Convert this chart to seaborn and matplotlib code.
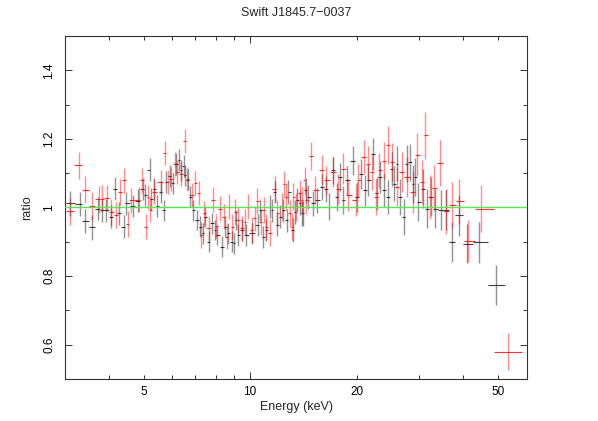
import numpy as np
import matplotlib
matplotlib.use("Agg")
import matplotlib.pyplot as plt
import seaborn as sns

# data group 1 (black) : bin centre energy (keV), data/model ratio, 1-sigma error
black_energy = [3.105, 3.30, 3.423, 3.575, 3.708, 3.815, 3.923, 4.053, 4.160, 4.250,
                4.390, 4.468, 4.667, 4.808, 4.967, 5.055, 5.198, 5.256, 5.360, 5.454,
                5.599, 5.694, 5.794, 5.920, 6.052, 6.171, 6.305, 6.387, 6.484, 6.556,
                6.654, 6.772, 6.892, 7.073, 7.227, 7.355, 7.465, 7.627, 7.797, 7.966,
                8.085, 8.320, 8.501, 8.685, 8.879, 8.981, 9.130, 9.268, 9.50, 9.74,
                10.11, 10.55, 10.67, 10.88, 11.09, 11.35, 11.54, 11.72, 11.91, 12.15,
                12.41, 12.69, 12.83, 13.25, 13.40, 13.55, 13.84, 13.99, 14.12, 14.35,
                14.61, 15.09, 15.48, 15.93, 16.39, 16.74, 17.18, 17.56, 17.95, 18.34,
                18.74, 19.56, 20.08, 20.53, 21.11, 21.57, 22.28, 22.78, 23.27, 23.88,
                24.56, 25.10, 25.53, 25.93, 26.50, 27.19, 27.67, 28.28, 28.89, 29.21,
                29.85, 30.71, 31.52, 32.35, 33.27, 34.53, 35.66, 37.07, 38.80, 40.88,
                44.20, 49.54]
black_ratio = [1.012, 1.009, 0.961, 0.942, 0.997, 0.992, 0.992, 0.973, 1.055, 0.983,
               0.944, 1.012, 1.004, 1.020, 1.054, 1.036, 1.110, 1.026, 1.055, 1.004,
               1.045, 0.992, 1.074, 1.091, 1.070, 1.128, 1.139, 1.108, 1.120, 1.094,
               1.081, 1.031, 0.992, 0.963, 0.944, 0.925, 0.973, 0.900, 0.954, 0.934,
               0.920, 0.886, 0.944, 0.925, 0.900, 0.896, 0.963, 0.920, 0.934, 0.920,
               0.925, 0.949, 0.992, 0.915, 0.934, 1.002, 0.992, 1.045, 0.949, 0.973,
               0.992, 0.963, 1.045, 0.934, 0.987, 1.021, 1.012, 0.983, 0.983, 1.050,
               1.031, 1.012, 1.021, 1.060, 1.055, 1.002, 1.108, 1.031, 1.089, 1.021,
               1.079, 1.137, 1.031, 1.098, 1.050, 1.079, 1.157, 1.041, 1.089, 1.050,
               1.031, 1.113, 1.069, 1.128, 1.031, 0.973, 1.128, 1.132, 1.069, 1.089,
               1.016, 1.055, 0.997, 1.031, 0.997, 0.992, 0.992, 0.899, 0.977, 0.894,
               0.899, 0.774]
black_err = [0.036, 0.035, 0.035, 0.036, 0.034, 0.034, 0.033, 0.034, 0.034, 0.033,
             0.034, 0.033, 0.032, 0.033, 0.032, 0.032, 0.033, 0.032, 0.032, 0.031,
             0.032, 0.031, 0.032, 0.032, 0.031, 0.032, 0.032, 0.031, 0.032, 0.031,
             0.031, 0.031, 0.030, 0.030, 0.031, 0.030, 0.030, 0.030, 0.031, 0.030,
             0.030, 0.031, 0.030, 0.030, 0.031, 0.031, 0.030, 0.031, 0.031, 0.031,
             0.031, 0.032, 0.032, 0.032, 0.032, 0.033, 0.033, 0.033, 0.033, 0.033,
             0.034, 0.034, 0.034, 0.035, 0.035, 0.035, 0.035, 0.036, 0.036, 0.036,
             0.036, 0.037, 0.037, 0.038, 0.038, 0.039, 0.040, 0.040, 0.041, 0.041,
             0.042, 0.043, 0.044, 0.044, 0.045, 0.046, 0.047, 0.047, 0.048, 0.049,
             0.050, 0.050, 0.051, 0.052, 0.052, 0.053, 0.054, 0.054, 0.055, 0.055,
             0.056, 0.057, 0.057, 0.057, 0.058, 0.059, 0.059, 0.058, 0.060, 0.057,
             0.060, 0.058]

# data group 2 (red)
red_energy = [3.105, 3.278, 3.423, 3.575, 3.732, 3.815, 3.941, 4.053, 4.187, 4.297,
              4.390, 4.506, 4.616, 4.840, 4.948, 5.078, 5.131, 5.222, 5.336, 5.599,
              5.731, 5.843, 5.974, 6.115, 6.211, 6.387, 6.526, 6.628, 6.846, 6.996,
              7.180, 7.274, 7.416, 7.627, 7.878, 8.018, 8.229, 8.408, 8.594, 8.742,
              8.896, 9.089, 9.268, 9.474, 9.680, 9.84, 10.11, 10.30, 10.43, 10.72,
              10.95, 11.09, 11.34, 11.76, 11.89, 12.28, 12.49, 12.63, 12.97, 13.11,
              13.25, 13.49, 13.84, 14.02, 14.24, 14.39, 14.84, 15.26, 16.00, 16.39,
              17.12, 17.75, 18.27, 18.94, 19.91, 20.22, 20.97, 21.48, 22.05, 22.68,
              23.16, 23.88, 24.56, 25.10, 25.93, 26.79, 27.67, 28.89, 29.65, 30.51,
              31.24, 32.20, 33.12, 34.37, 35.66, 37.22, 38.95, 41.30, 44.77, 53.55]
red_ratio = [0.989, 1.123, 1.052, 1.004, 1.024, 1.026, 1.028, 0.987, 0.978, 1.045,
             1.079, 0.952, 1.021, 1.023, 1.079, 0.944, 1.031, 0.992, 1.045, 1.074,
             1.160, 1.074, 1.084, 1.128, 1.103, 1.098, 1.195, 1.084, 1.036, 1.070,
             1.042, 0.920, 0.983, 0.939, 1.023, 0.946, 0.997, 0.973, 0.915, 1.002,
             0.944, 0.987, 0.963, 0.939, 0.958, 1.002, 0.934, 0.968, 1.019, 0.958,
             0.992, 0.944, 0.925, 1.055, 0.983, 1.002, 1.068, 1.031, 0.983, 0.944,
             1.031, 1.002, 1.041, 1.021, 1.079, 1.021, 1.149, 1.050, 1.110, 1.079,
             1.103, 1.055, 1.113, 1.036, 1.021, 1.079, 1.147, 1.128, 1.103, 1.031,
             1.108, 1.137, 1.183, 1.132, 1.060, 1.103, 1.089, 1.045, 1.154, 1.075,
             1.210, 1.031, 1.058, 1.130, 0.989, 1.007, 1.018, 0.903, 0.997, 0.580]
red_err = [0.040, 0.040, 0.040, 0.040, 0.040, 0.039, 0.039, 0.038, 0.038, 0.038,
           0.037, 0.037, 0.037, 0.036, 0.036, 0.036, 0.036, 0.035, 0.035, 0.035,
           0.035, 0.035, 0.035, 0.035, 0.035, 0.035, 0.035, 0.035, 0.035, 0.035,
           0.036, 0.038, 0.036, 0.036, 0.036, 0.036, 0.036, 0.036, 0.037, 0.037,
           0.037, 0.037, 0.037, 0.037, 0.037, 0.037, 0.037, 0.037, 0.038, 0.038,
           0.038, 0.038, 0.038, 0.038, 0.038, 0.039, 0.039, 0.039, 0.039, 0.039,
           0.039, 0.040, 0.040, 0.040, 0.040, 0.040, 0.041, 0.041, 0.042, 0.042,
           0.043, 0.044, 0.045, 0.046, 0.047, 0.048, 0.049, 0.050, 0.051, 0.052,
           0.052, 0.054, 0.056, 0.056, 0.057, 0.058, 0.059, 0.061, 0.063, 0.064,
           0.068, 0.065, 0.066, 0.066, 0.065, 0.066, 0.066, 0.061, 0.069, 0.053]

model_ratio = 1.0

x_major = [10]
x_minor = [4, 5, 6, 7, 8, 9, 20, 30, 40, 50]
x_minor_labels = ['', '5', '', '', '', '', '20', '', '', '50']
y_major = [0.6, 0.8, 1.0, 1.2, 1.4]
y_major_labels = ['0.6', '0.8', '1', '1.2', '1.4']
y_minor = [0.7, 0.9, 1.1, 1.3]


def bin_widths(energy):
    # contiguous channels: edges half way (in log) between neighbouring centres
    e = np.asarray(energy)
    mids = np.sqrt(e[:-1] * e[1:])
    lo = np.concatenate([[e[0] ** 2 / mids[0]], mids])
    hi = np.concatenate([mids, [e[-1] ** 2 / mids[-1]]])
    return np.vstack([e - lo, hi - e])


def main():
    sns.set_theme(style='ticks')
    plt.rcParams['font.family'] = ['Liberation Sans', 'DejaVu Sans']

    fig = plt.figure(figsize=(5.98, 4.21), dpi=100)
    ax = fig.add_axes([0.1087, 0.0998, 0.7726, 0.8147])

    for energy, ratio, err, col in [(black_energy, black_ratio, black_err, '#111111'),
                                    (red_energy, red_ratio, red_err, '#ff0000')]:
        # vertical error bars look faint in the original, the bin widths stronger
        ax.errorbar(energy, ratio, yerr=err, fmt='none',
                    ecolor=col, elinewidth=1.0, alpha=0.45, capsize=0)
        ax.errorbar(energy, ratio, xerr=bin_widths(energy), fmt='none',
                    ecolor=col, elinewidth=0.8, alpha=0.8, capsize=0)

    ax.axhline(model_ratio, color='#55e855', lw=1.0, zorder=3)

    ax.set_xscale('log')
    ax.set_xlim(3.0, 60.5)
    ax.set_ylim(0.5, 1.5)

    ax.set_xticks(x_major, labels=['10'])
    ax.set_xticks(x_minor, labels=x_minor_labels, minor=True)
    ax.set_yticks(y_major, labels=y_major_labels)
    ax.set_yticks(y_minor, minor=True)

    ax.tick_params(which='both', direction='in', top=True, right=True,
                   colors='#333333', labelcolor='black', labelsize=8.5, width=0.7)
    ax.tick_params(which='major', length=5, pad=5)
    ax.tick_params(which='minor', length=3, pad=5)
    ax.tick_params(axis='y', which='major', pad=7)
    for lab in ax.get_yticklabels():
        lab.set_rotation(90)
        lab.set_va('center')

    for sp in ax.spines.values():
        sp.set_color('#333333')
        sp.set_linewidth(0.8)

    ax.set_xlabel('Energy (keV)', fontsize=9, labelpad=2)
    ax.set_ylabel('ratio', fontsize=9, labelpad=7)
    fig.text(0.495, 1 - 13 / 421, 'Swift J1845.7\u22120037', ha='center', va='center',
             fontsize=9)

    fig.savefig('out.png', dpi=100)
    plt.close(fig)


if __name__ == "__main__":
    main()
